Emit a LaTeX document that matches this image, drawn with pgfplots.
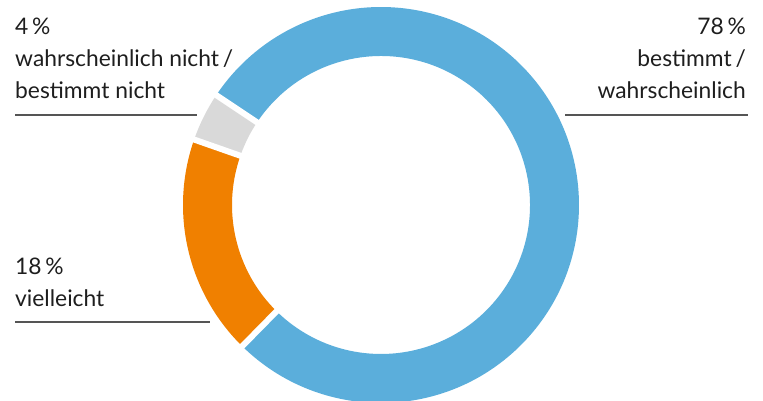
\documentclass[border=0pt]{standalone}
\usepackage{pgfplots}
\pgfplotsset{compat=1.18}
\usepackage{fontspec}
\setmainfont{Lato}
\definecolor{cblue}{HTML}{5BAEDB}
\definecolor{corange}{HTML}{F08000}
\definecolor{cgray}{HTML}{D9D9D9}
\definecolor{ctext}{HTML}{1E1E1E}
\definecolor{cline}{HTML}{555555}
\tikzset{lab/.style={font=\fontsize{22.8}{27}\selectfont, text=ctext, inner sep=0pt}}
\begin{document}
\begin{tikzpicture}
\begin{axis}[x=1pt,y=1pt,xmin=0,xmax=763,ymin=0,ymax=401,
  hide axis, scale only axis, clip=true]
% values (percent): 78 (bestimmt/wahrscheinlich), 4 (wahrscheinlich nicht/bestimmt nicht), 18 (vielleicht)
\begin{scope}
\clip (axis cs:0,0) rectangle (axis cs:763,401);
% blue 78
\fill[cblue] (axis cs:381,196) ++(225.5:198pt) arc[start angle=225.5, delta angle=78*3.6, radius=198pt]
  -- ++({225.5+78*3.6+180}:49pt) arc[start angle={225.5+78*3.6}, delta angle=-78*3.6, radius=149pt] -- cycle;
% gray 4
\fill[cgray] (axis cs:381,196) ++({225.5+78*3.6}:198pt) arc[start angle={225.5+78*3.6}, delta angle=4*3.6, radius=198pt]
  -- ++({225.5+82*3.6+180}:49pt) arc[start angle={225.5+82*3.6}, delta angle=-4*3.6, radius=149pt] -- cycle;
% orange 18
\fill[corange] (axis cs:381,196) ++({225.5+82*3.6}:198pt) arc[start angle={225.5+82*3.6}, delta angle=18*3.6, radius=198pt]
  -- ++({225.5+100*3.6+180}:49pt) arc[start angle={225.5+100*3.6}, delta angle=-18*3.6, radius=149pt] -- cycle;
% gaps
\draw[white, line width=6pt] (axis cs:381,196) ++(225.5:140pt) -- ++(225.5:70pt);
\draw[white, line width=6pt] (axis cs:381,196) ++({225.5+78*3.6}:140pt) -- ++({225.5+78*3.6}:70pt);
\draw[white, line width=6pt] (axis cs:381,196) ++({225.5+82*3.6}:140pt) -- ++({225.5+82*3.6}:70pt);
\end{scope}
% leader lines
\addplot[cline, line width=1.3pt] coordinates {(15,286) (197,286)};
\addplot[cline, line width=1.3pt] coordinates {(565,286) (748,286)};
\addplot[cline, line width=1.3pt] coordinates {(15,79) (210,79)};
% labels
\node[lab, anchor=base west] at (axis cs:15,366) {4\,\%};
\node[lab, anchor=base west] at (axis cs:15,334) {wahrscheinlich nicht\,/};
\node[lab, anchor=base west] at (axis cs:15,302) {bestimmt nicht};
\node[lab, anchor=base west] at (axis cs:15,126) {18\,\%};
\node[lab, anchor=base west] at (axis cs:15,94) {vielleicht};
\node[lab, anchor=base east] at (axis cs:746,366) {78\,\%};
\node[lab, anchor=base east] at (axis cs:746,334) {bestimmt\,/};
\node[lab, anchor=base east] at (axis cs:746,302) {wahrscheinlich};
\end{axis}
\end{tikzpicture}
\end{document}
